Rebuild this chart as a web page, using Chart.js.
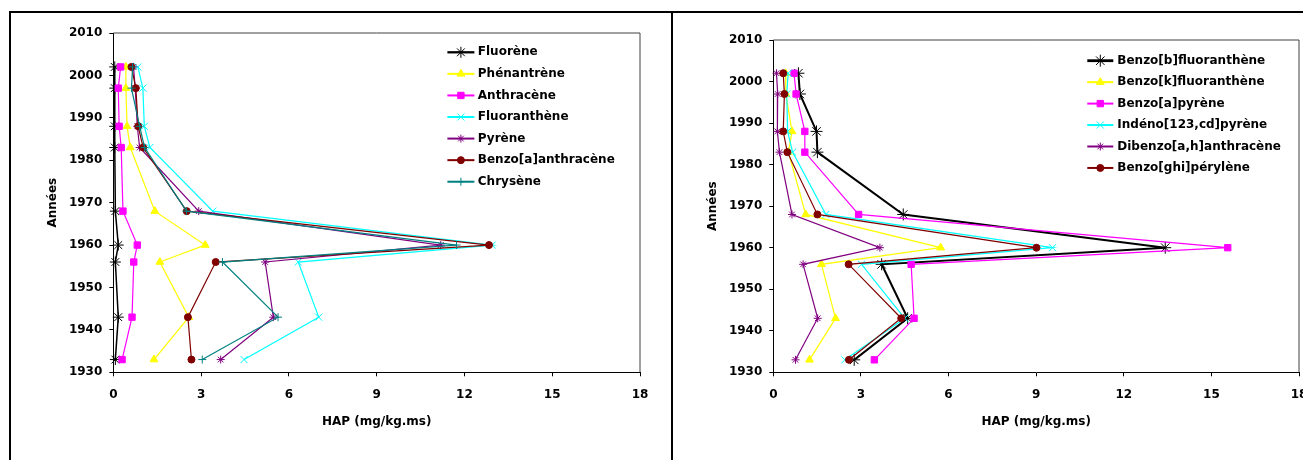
<!DOCTYPE html>
<html lang="fr">
<head>
<meta charset="utf-8">
<title>HAP dans les sédiments</title>
<script src="https://cdn.jsdelivr.net/npm/chart.js@4.4.1/dist/chart.umd.min.js"></script>
<style>
    html, body { margin: 0; padding: 0; background: #fff; overflow: hidden; }
    #page { position: relative; width: 1303px; height: 460px; overflow: hidden; }
    canvas { position: absolute; top: 0; }
    #g1 { left: 0; }
    #g2 { left: 671px; }
    .cadre { position: absolute; box-sizing: border-box; pointer-events: none; }
    #cadre1 { left: 9px; top: 11px; width: 664px; height: 470px; border: 2px solid #000; border-bottom: none; }
    #cadre2 { left: 671px; top: 11px; width: 700px; height: 470px; border-top: 2px solid #000; }
</style>
</head>
<body>
<div id="page">
    <canvas id="g1" width="671" height="460"></canvas>
    <canvas id="g2" width="660" height="460"></canvas>
    <div class="cadre" id="cadre1"></div>
    <div class="cadre" id="cadre2"></div>
</div>
<script>
// années de dépôt (axe vertical)
var annees = [2002, 1997, 1988, 1983, 1968, 1960, 1956, 1943, 1933];
var graduationsX = [0, 3, 6, 9, 12, 15, 18];
var graduationsY = [1930, 1940, 1950, 1960, 1970, 1980, 1990, 2000, 2010];

// graphe de gauche (mg/kg.ms)
var fluorene         = [0.05, 0.05, 0.05, 0.05, 0.07, 0.17, 0.07, 0.17, 0.07];
var phenantrene      = [0.43, 0.43, 0.47, 0.58, 1.42, 3.14, 1.59, 2.58, 1.39];
var anthracene       = [0.25, 0.17, 0.20, 0.27, 0.33, 0.82, 0.70, 0.64, 0.30];
var fluoranthene     = [0.84, 1.01, 1.06, 1.25, 3.40, 12.95, 6.32, 7.02, 4.47];
var pyrene           = [0.69, 0.75, 0.82, 0.90, 2.92, 11.19, 5.19, 5.47, 3.67];
var benzoAAnthracene = [0.62, 0.77, 0.85, 1.02, 2.51, 12.84, 3.50, 2.55, 2.67];
var chrysene         = [0.66, 0.62, 0.90, 1.07, 2.50, 11.73, 3.73, 5.63, 3.04];

// graphe de droite (mg/kg.ms)
var benzoBFluoranthene = [0.86, 0.91, 1.48, 1.51, 4.45, 13.42, 3.71, 4.60, 2.77];
var benzoKFluoranthene = [0.42, 0.43, 0.64, 0.52, 1.11, 5.73, 1.65, 2.13, 1.24];
var benzoAPyrene       = [0.71, 0.78, 1.08, 1.08, 2.92, 15.56, 4.72, 4.82, 3.46];
var indenoPyrene       = [0.51, 0.46, 0.49, 0.66, 1.80, 9.56, 3.02, 4.50, 2.45];
var dibenzoAnthracene  = [0.11, 0.15, 0.14, 0.21, 0.64, 3.65, 1.02, 1.52, 0.76];
var benzoGhiPerylene   = [0.34, 0.38, 0.34, 0.48, 1.51, 9.01, 2.58, 4.38, 2.59];

var police = "'DejaVu Sans', sans-serif";
var fontGras = { family: police, size: 12, weight: 'bold' };

function serie(nom, valeurs, couleur, forme, taille, epaisseur, rang) {
    return {
        label: nom,
        data: valeurs.map(function (v, i) { return { x: v, y: annees[i] }; }),
        showLine: true,
        borderColor: couleur,
        backgroundColor: couleur,
        pointStyle: forme,
        pointRadius: taille,
        pointHoverRadius: taille,
        pointBorderWidth: 1,
        borderWidth: epaisseur,
        order: rang,
        clip: false,
        fill: false
    };
}

// cadre de la zone de tracé (haut et droite)
var cadrePlot = {
    id: 'cadrePlot',
    beforeDatasetsDraw: function (chart) {
        var a = chart.chartArea, ctx = chart.ctx;
        ctx.save();
        ctx.strokeStyle = '#404040';
        ctx.lineWidth = 1;
        ctx.beginPath();
        ctx.moveTo(a.left, a.top);
        ctx.lineTo(a.right, a.top);
        ctx.lineTo(a.right, a.bottom);
        ctx.stroke();
        ctx.restore();
    }
};

// légende dessinée dans la zone de tracé, en haut à droite
var legendeInterne = {
    id: 'legendeInterne',
    afterDraw: function (chart, args, opts) {
        var ctx = chart.ctx;
        ctx.save();
        ctx.font = 'bold 12px ' + police;
        ctx.textBaseline = 'middle';
        ctx.textAlign = 'left';
        chart.data.datasets.forEach(function (ds, i) {
            var y = opts.y + i * opts.pas;
            ctx.strokeStyle = ds.borderColor;
            ctx.lineWidth = ds.borderWidth + 0.8;
            ctx.beginPath();
            ctx.moveTo(opts.x, y);
            ctx.lineTo(opts.x + opts.longueur, y);
            ctx.stroke();
            ctx.fillStyle = ds.backgroundColor;
            ctx.lineWidth = 1;
            Chart.helpers.drawPoint(ctx, {
                pointStyle: ds.pointStyle, radius: ds.pointRadius, rotation: 0, borderWidth: 1
            }, opts.x + opts.longueur / 2, y);
            ctx.fillStyle = '#000';
            ctx.fillText(ds.label, opts.x + opts.longueur + opts.ecart, y);
        });
        ctx.restore();
    }
};

function creerGraphe(id, series, r) {
    return new Chart(document.getElementById(id).getContext('2d'), {
        type: 'scatter',
        data: { datasets: series },
        options: {
            responsive: false,
            animation: false,
            events: [],
            layout: { padding: { left: 0, top: r.haut, right: r.droite, bottom: 0 } },
            plugins: {
                legend: { display: false },
                tooltip: { enabled: false },
                legendeInterne: r.legende
            },
            scales: {
                x: {
                    type: 'linear', min: 0, max: 18,
                    afterBuildTicks: function (s) { s.ticks = graduationsX.map(function (v) { return { value: v }; }); },
                    afterFit: function (s) { s.height = 460 - r.bas; },
                    ticks: { color: '#000', font: fontGras, padding: 11.8, maxRotation: 0, autoSkip: false },
                    grid: { drawOnChartArea: false, drawTicks: true, tickLength: 4, color: '#000' },
                    border: { display: true, color: '#000', width: 1 },
                    title: { display: true, text: 'HAP (mg/kg.ms)', color: '#000', font: fontGras, padding: { top: 0, bottom: 31.1 } }
                },
                y: {
                    type: 'linear', min: 1930, max: 2010,
                    afterBuildTicks: function (s) { s.ticks = graduationsY.map(function (v) { return { value: v }; }); },
                    afterFit: function (s) { s.width = r.gauche; },
                    ticks: { color: '#000', font: fontGras, padding: 7, autoSkip: false,
                        callback: function (v) { return String(v); } },
                    grid: { drawOnChartArea: false, drawTicks: true, tickLength: 4, color: '#000' },
                    border: { display: true, color: '#000', width: 1 },
                    title: { display: true, text: 'Années', color: '#000', font: fontGras, padding: { top: r.titreY, bottom: 0 } }
                }
            }
        },
        plugins: [cadrePlot, legendeInterne]
    });
}

creerGraphe('g1', [
    serie('Fluorène', fluorene, '#000000', 'star', 5.5, 1.5, 7),
    serie('Phénantrène', phenantrene, '#FFFF00', 'triangle', 4.5, 1.2, 6),
    serie('Anthracène', anthracene, '#FF00FF', 'rect', 4.5, 1.2, 5),
    serie('Fluoranthène', fluoranthene, '#00FFFF', 'crossRot', 5, 1.2, 4),
    serie('Pyrène', pyrene, '#800080', 'star', 4, 1.2, 3),
    serie('Benzo[a]anthracène', benzoAAnthracene, '#800000', 'circle', 3.5, 1.2, 2),
    serie('Chrysène', chrysene, '#008080', 'cross', 4, 1.2, 1)
], {
    haut: 33, droite: 31, bas: 372.3, gauche: 113.3, titreY: 45.4,
    legende: { x: 447.4, y: 52.3, pas: 21.57, longueur: 27, ecart: 3.4 }
});

creerGraphe('g2', [
    serie('Benzo[b]fluoranthène', benzoBFluoranthene, '#000000', 'star', 6, 2, 6),
    serie('Benzo[k]fluoranthène', benzoKFluoranthene, '#FFFF00', 'triangle', 4.5, 1.2, 5),
    serie('Benzo[a]pyrène', benzoAPyrene, '#FF00FF', 'rect', 4.5, 1.2, 4),
    serie('Indéno[123,cd]pyrène', indenoPyrene, '#00FFFF', 'crossRot', 5, 1.2, 3),
    serie('Dibenzo[a,h]anthracène', dibenzoAnthracene, '#800080', 'star', 4, 1.2, 2),
    serie('Benzo[ghi]pérylène', benzoGhiPerylene, '#800000', 'circle', 3.5, 1.2, 1)
], {
    haut: 40, droite: 32, bas: 372.3, gauche: 102.3, titreY: 34.3,
    legende: { x: 416.3, y: 60.7, pas: 21.45, longueur: 26, ecart: 4 }
});
</script>
</body>
</html>
